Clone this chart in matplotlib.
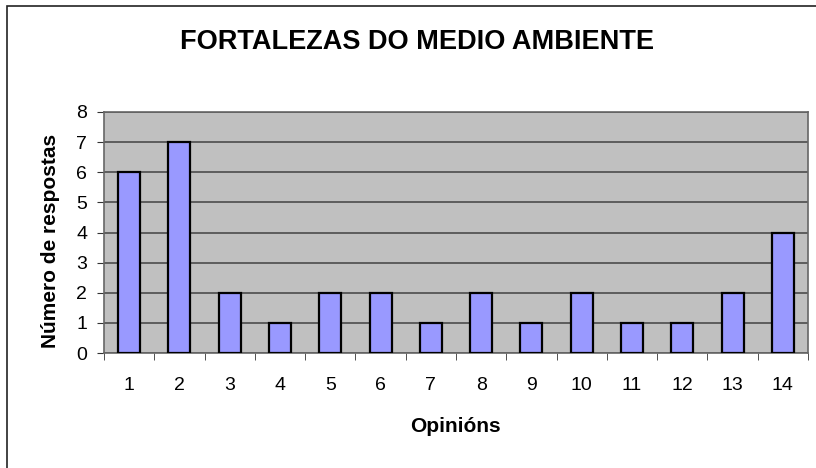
import matplotlib
matplotlib.use("Agg")
import matplotlib.pyplot as plt
from matplotlib.patches import Rectangle
import numpy as np

# data
opinions = [str(i) for i in range(1, 15)]
responses = [6, 7, 2, 1, 2, 2, 1, 2, 1, 2, 1, 1, 2, 4]

plt.rcParams['font.family'] = ['Liberation Sans', 'DejaVu Sans']

W, H = 816, 468
fig = plt.figure(figsize=(W / 100, H / 100), dpi=100)
ax = fig.add_axes([104 / W, 1 - 353 / H, 704 / W, 241 / H])

# outer chart frame (runs off the right and bottom edges)
fig.patches.append(Rectangle((7 / W, -0.1), 1.2, 1 - 6 / H + 0.1,
                             transform=fig.transFigure, fill=False,
                             edgecolor='#222222', linewidth=1.2))

x = np.arange(len(opinions))
ax.set_facecolor('#C0C0C0')
ax.bar(x, responses, width=0.44, color='#9999FF', edgecolor='black',
       linewidth=1.6, zorder=3)

ax.set_ylim(0, 8)
ax.set_xlim(-0.5, len(opinions) - 0.5)
ax.set_yticks(range(0, 9))
ax.yaxis.grid(True, color='#555555', linewidth=1.3, zorder=1)
ax.set_axisbelow(True)

ax.set_xticks(x)
ax.set_xticklabels(opinions)
ax.set_xticks(np.arange(-0.5, len(opinions)), minor=True)
ax.tick_params(axis='x', which='major', length=0, pad=17, labelsize=14)
ax.tick_params(axis='x', which='minor', length=5, color='#333333')
ax.tick_params(axis='y', length=5, color='#333333', labelsize=14, pad=7)

for s in ax.spines.values():
    s.set_color('#666666')
    s.set_linewidth(1.2)

fig.text(455 / W, 1 - 426 / H, 'Opinións', ha='center', va='center',
         fontsize=15, fontweight='bold')
fig.text(51 / W, 1 - 241 / H, 'Número de respostas', ha='center',
         va='center', rotation=90, fontsize=15, fontweight='bold')

fig.text(417 / W, 1 - 42 / H, 'FORTALEZAS DO MEDIO AMBIENTE', ha='center',
         va='center', fontsize=19.5, fontweight='bold')

fig.savefig('out.png', dpi=100)
